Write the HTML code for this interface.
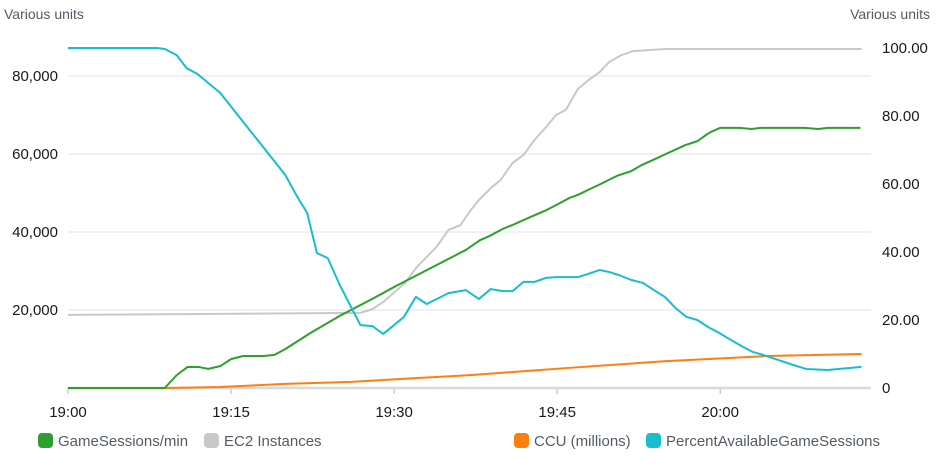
<!DOCTYPE html>
<html><head><meta charset="utf-8"><style>
body{margin:0;background:#fff;font-family:"Liberation Sans",sans-serif;}
svg text{font-family:"Liberation Sans",sans-serif;fill:#16191f}
</style></head><body>
<svg id="c" width="936" height="469">
<text x="4" y="19" font-size="14" fill="#545b64" style="fill:#545b64">Various units</text>
<text x="930" y="19" font-size="14" text-anchor="end" style="fill:#545b64">Various units</text>
<g id="grid"></g><g id="series"></g><g id="legend"></g>
</svg>
<script>
const leftTicks=[0,20000,40000,60000,80000];
const leftTickLabels=["","20,000","40,000","60,000","80,000"];
const rightTicks=[0,20,40,60,80,100];
const rightTickLabels=["0","20.00","40.00","60.00","80.00","100.00"];
const xTicks=[0,15,30,45,60];
const xTickLabels=["19:00","19:15","19:30","19:45","20:00"];
const gsTimes=[0,8.9,10,11,12,12.9,14,15,16.1,18,19,20,22.3,25,28.3,30,36.6,37.9,38.8,40,40.9,42.5,44,44.9,46.1,46.9,48,49,50.5,51.8,52.8,54,55,56.8,57.9,58.7,59.1,60,61.8,62.9,63.7,67.8,69,69.9,72.9];
const gsValues=[0,0,3300,5400,5400,4900,5600,7400,8200,8200,8500,10000,14100,18500,23300,25900,35400,37900,39000,40800,41800,43800,45600,46900,48700,49500,51000,52300,54400,55600,57200,58700,60000,62300,63300,64900,65600,66700,66700,66400,66700,66700,66400,66700,66700];
const ec2Times=[0,26.9,28,29,31,32.1,33.9,35,36.1,37,37.8,38.9,39.8,40.9,41.9,42.9,44,44.9,45.8,46.9,47.9,48.9,49.8,50.9,52,55,73];
const ec2Values=[21.5,22.1,23.2,25.3,30.9,35.6,41.5,46.5,47.9,52.1,55.3,58.8,61.2,66.2,68.5,72.9,76.8,80.3,81.8,87.9,90.6,92.9,95.9,97.9,99.1,99.7,99.7];
const ccuTimes=[0,9,14,20,26,32,37,46,55,60.6,64.3,73];
const ccuValues=[0,0,0.3,1.2,1.8,2.9,3.8,5.9,7.9,8.8,9.4,10.0];
const pctTimes=[0,8.2,8.9,10,10.9,11.9,14,20,21.1,22,22.9,23.9,25,26.9,28,29,30.9,32,33,35,36.6,37.8,38.9,40,40.9,41.9,42.9,44,44.9,46.9,47.8,48.9,49.8,50.7,51.8,52.9,53.9,54.9,55.9,56.9,57.9,58.9,59.9,61,62.1,63,64,65.1,66.7,67.9,69.9,73];
const pctValues=[100,100,99.7,97.9,94.1,92.4,86.8,62.6,56.2,51.5,39.7,38.2,30.3,18.5,18.2,15.9,20.9,26.8,24.7,27.9,28.8,26.2,29.1,28.5,28.5,31.2,31.2,32.4,32.6,32.6,33.5,34.7,34.1,33.2,31.8,30.9,28.8,26.8,23.5,20.9,20,17.9,16.2,14.1,12.1,10.6,9.7,8.5,6.8,5.6,5.3,6.2];

const NS="http://www.w3.org/2000/svg";
const X=m=>68+m*10.87;
const YL=v=>388-v/1000*3.9;
const YR=v=>388-v*3.4;
function mk(tag,attrs,parent){const e=document.createElementNS(NS,tag);for(const k in attrs)e.setAttribute(k,attrs[k]);parent.appendChild(e);return e;}
const grid=document.getElementById('grid'),ser=document.getElementById('series'),leg=document.getElementById('legend');
leftTicks.forEach((t,i)=>{
 if(t>0){const l=mk('line',{x1:68,x2:871,y1:YL(t),y2:YL(t),stroke:'#eaeded','stroke-width':1.5},grid);
 
 }
 const tx=mk('text',{x:58,y:YL(t)+5,'font-size':15,'text-anchor':'end'},grid);tx.textContent=leftTickLabels[i];
 
 
});
rightTicks.forEach((t,i)=>{
 const tx=mk('text',{x:882,y:YR(t)+5,'font-size':15},grid);tx.textContent=rightTickLabels[i];
 
 
});
xTicks.forEach((t,i)=>{
 const tk=mk('line',{x1:X(t),x2:X(t),y1:388,y2:394,stroke:'#aab7b8'},grid);
 
 
 const tx=mk('text',{x:X(t),y:417,'font-size':15,'text-anchor':'middle'},grid);tx.textContent=xTickLabels[i];
 
 
});
const base=mk('line',{x1:68,x2:871,y1:388,y2:388,stroke:'#d5dbdb','stroke-width':2.5},grid);


function line(ts,vs,yf,color,name){
 const p=mk('polyline',{points:ts.map((t,i)=>X(t)+','+yf(vs[i])).join(' '),fill:'none',stroke:color,'stroke-width':2,'stroke-linejoin':'round'},ser);
 
 
}
line(ec2Times,ec2Values,YR,'#c8c8c8','ec2-instances-line');
line(ccuTimes,ccuValues,YR,'#ff7f0e','ccu-line');
line(gsTimes,gsValues,YL,'#2ca02c','game-sessions-line');
line(pctTimes,pctValues,YR,'#17becf','percent-available-line');
const legendItems=[["GameSessions/min","#2ca02c",38],["EC2 Instances","#c8c8c8",204],["CCU (millions)","#ff7f0e",514],["PercentAvailableGameSessions","#17becf",646]];
legendItems.forEach(it=>{
 const g=mk('g',{},leg);
 
 
 mk('rect',{x:it[2],y:433,width:15,height:15,rx:4,fill:it[1]},g);
 const tx=mk('text',{x:it[2]+20,y:446,'font-size':15,style:'fill:#545b64'},g);tx.textContent=it[0];
});
</script>
</body></html>
